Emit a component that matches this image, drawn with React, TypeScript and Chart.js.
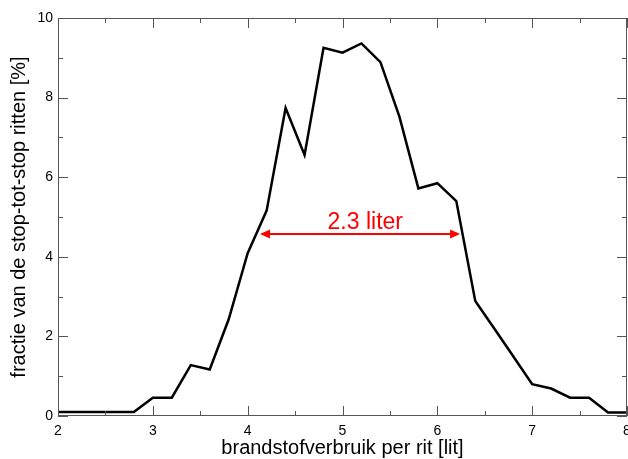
import React, { useEffect, useRef } from 'react';
import { Chart, registerables } from 'chart.js';

Chart.register(...registerables);

// fuel use per trip [litre], step 0.2
const verbruik = [
  2.0, 2.2, 2.4, 2.6, 2.8, 3.0, 3.2, 3.4, 3.6, 3.8, 4.0, 4.2, 4.4, 4.6, 4.8, 5.0,
  5.2, 5.4, 5.6, 5.8, 6.0, 6.2, 6.4, 6.6, 6.8, 7.0, 7.2, 7.4, 7.6, 7.8, 8.0,
];
// fraction of stop-to-stop trips [%]
const fractie = [
  0.1, 0.1, 0.1, 0.1, 0.1, 0.46, 0.46, 1.28, 1.17, 2.43, 4.09, 5.16, 7.74, 6.56, 9.25, 9.13,
  9.36, 8.89, 7.52, 5.72, 5.85, 5.4, 2.89, 2.2, 1.5, 0.8, 0.69, 0.46, 0.46, 0.09, 0.09,
];

const xTicks = [2, 3, 4, 5, 6, 7, 8];
const yTicks = [0, 2, 4, 6, 8, 10];

// width annotation
const breedteLabel = '2.3 liter';
const pijlVan = 4.13;
const pijlTot = 6.24;
const pijlHoogte = 4.57;
const labelX = 5.24;
const labelY = 4.87;

const frameAndArrow = {
  id: 'frameAndArrow',
  afterDatasetsDraw(chart: any) {
    const { ctx, chartArea: a, scales } = chart;
    const xs = scales.x;
    const ys = scales.y;
    ctx.save();

    // frame
    ctx.strokeStyle = '#555';
    ctx.lineWidth = 1;
    ctx.strokeRect(a.left + 0.5, a.top + 0.5, a.right - a.left - 1, a.bottom - a.top - 1);

    // inward ticks
    ctx.beginPath();
    for (let v = xTicks[0]; v <= xTicks[xTicks.length - 1] + 1e-9; v += 0.5) {
      const px = Math.round(xs.getPixelForValue(v)) + 0.5;
      const len = Number.isInteger(v) ? 10 : 5;
      ctx.moveTo(px, a.bottom);
      ctx.lineTo(px, a.bottom - len);
      ctx.moveTo(px, a.top);
      ctx.lineTo(px, a.top + len);
    }
    for (let v = yTicks[0]; v <= yTicks[yTicks.length - 1] + 1e-9; v += 1) {
      const py = Math.round(ys.getPixelForValue(v)) + 0.5;
      const len = v % 2 === 0 ? 10 : 5;
      ctx.moveTo(a.left, py);
      ctx.lineTo(a.left + len, py);
      ctx.moveTo(a.right, py);
      ctx.lineTo(a.right - len, py);
    }
    ctx.stroke();

    // red double arrow
    const x1 = xs.getPixelForValue(pijlVan);
    const x2 = xs.getPixelForValue(pijlTot);
    const y = ys.getPixelForValue(pijlHoogte);
    ctx.strokeStyle = '#ff0000';
    ctx.fillStyle = '#ff0000';
    ctx.lineWidth = 2;
    ctx.beginPath();
    ctx.moveTo(x1 + 6, y);
    ctx.lineTo(x2 - 6, y);
    ctx.stroke();
    ctx.beginPath();
    ctx.moveTo(x1, y);
    ctx.lineTo(x1 + 10, y - 4.5);
    ctx.lineTo(x1 + 10, y + 4.5);
    ctx.closePath();
    ctx.moveTo(x2, y);
    ctx.lineTo(x2 - 10, y - 4.5);
    ctx.lineTo(x2 - 10, y + 4.5);
    ctx.closePath();
    ctx.fill();

    ctx.font = '23px "Liberation Sans", Arial, sans-serif';
    ctx.textAlign = 'center';
    ctx.textBaseline = 'middle';
    ctx.fillText(breedteLabel, xs.getPixelForValue(labelX), ys.getPixelForValue(labelY));
    ctx.restore();
  },
};

const App: React.FC = () => {
  const canvasRef = useRef<HTMLCanvasElement>(null);
  const chartRef = useRef<Chart | null>(null);

  useEffect(() => {
    if (!canvasRef.current) return;
    if (chartRef.current) {
      chartRef.current.destroy();
    }
    const ctx = canvasRef.current.getContext('2d');
    if (!ctx) return;

    const tickFont = { family: '"Liberation Sans", Arial, sans-serif', size: 14 };
    const titleFont = { family: '"Liberation Sans", Arial, sans-serif', size: 20, lineHeight: 1 };

    chartRef.current = new Chart(ctx, {
      type: 'line',
      data: {
        datasets: [
          {
            data: verbruik.map((x, i) => ({ x, y: fractie[i] })),
            borderColor: '#000',
            borderWidth: 2.5,
            pointRadius: 0,
            fill: false,
            tension: 0,
          },
        ],
      },
      options: {
        responsive: false,
        animation: false,
        layout: { autoPadding: false, padding: { top: 18, right: 1, left: 0, bottom: 0 } },
        plugins: {
          legend: { display: false },
          tooltip: { enabled: false },
        },
        scales: {
          x: {
            type: 'linear',
            min: 2,
            max: 8,
            grid: { display: false, drawTicks: false },
            border: { display: false },
            afterBuildTicks: (s: any) => {
              s.ticks = xTicks.map((value) => ({ value }));
            },
            afterFit: (s: any) => {
              s.height = 43;
              s.paddingLeft = 0;
              s.paddingRight = 0;
            },
            ticks: { color: '#000', font: tickFont, padding: 7, maxRotation: 0 },
            title: {
              display: true,
              text: 'brandstofverbruik per rit [lit]',
              color: '#000',
              font: titleFont,
              padding: { top: 0, bottom: 1 },
            },
          },
          y: {
            type: 'linear',
            min: 0,
            max: 10,
            grid: { display: false, drawTicks: false },
            border: { display: false },
            afterBuildTicks: (s: any) => {
              s.ticks = yTicks.map((value) => ({ value }));
            },
            afterFit: (s: any) => {
              s.width = 58;
              s.paddingTop = 0;
              s.paddingBottom = 0;
            },
            ticks: { color: '#000', font: tickFont, padding: 5 },
            title: {
              display: true,
              text: 'fractie van de stop-tot-stop ritten [%]',
              color: '#000',
              font: titleFont,
              padding: { top: 9, bottom: 0 },
            },
          },
        },
      },
      plugins: [frameAndArrow],
    });

    return () => {
      if (chartRef.current) {
        chartRef.current.destroy();
        chartRef.current = null;
      }
    };
  }, []);

  return (
    <div style={{ position: 'absolute', left: 0, top: 0, width: 628, height: 459, background: '#fff' }}>
      <canvas ref={canvasRef} width={628} height={459} style={{ display: 'block' }}></canvas>
    </div>
  );
};

export default App;
